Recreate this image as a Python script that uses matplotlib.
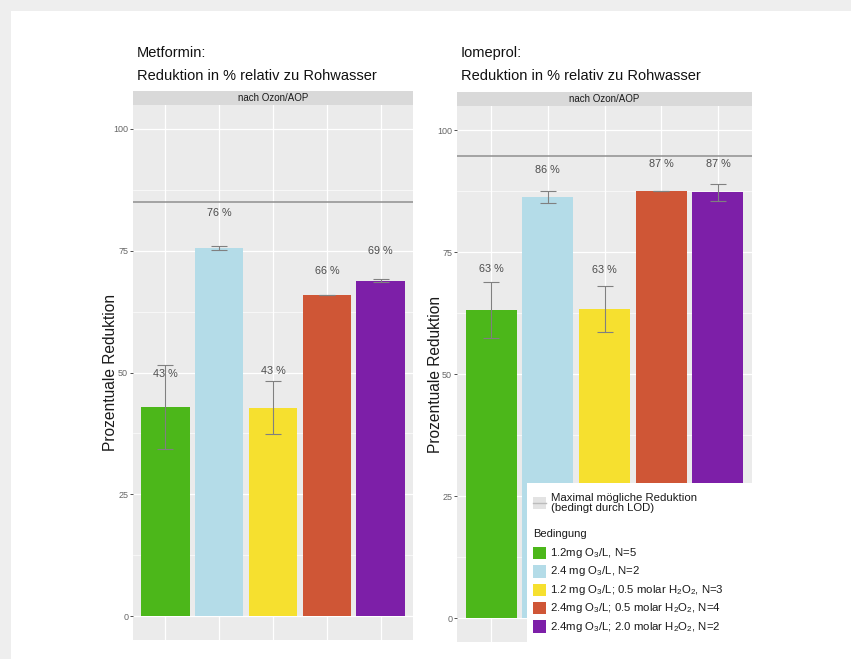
import matplotlib
matplotlib.use("Agg")
import matplotlib.pyplot as plt
from matplotlib.patches import Rectangle
from matplotlib.lines import Line2D

plt.rcParams["font.family"] = ["Liberation Sans", "DejaVu Sans"]
plt.rcParams["mathtext.fontset"] = "custom"
plt.rcParams["mathtext.rm"] = "Liberation Sans"
plt.rcParams["mathtext.it"] = "Liberation Sans:italic"
plt.rcParams["mathtext.bf"] = "Liberation Sans:bold"

# ---- data -------------------------------------------------------------
conditions = [
    "1.2mg O$_3$/L, N=5",
    "2.4 mg O$_3$/L, N=2",
    "1.2 mg O$_3$/L; 0.5 molar H$_2$O$_2$, N=3",
    "2.4mg O$_3$/L; 0.5 molar H$_2$O$_2$, N=4",
    "2.4mg O$_3$/L; 2.0 molar H$_2$O$_2$, N=2",
]
colors = ["#4cb71a", "#b4dce8", "#f6e02f", "#cf5636", "#7d1fa8"]

metformin_mean = [42.9, 75.6, 42.8, 65.9, 68.8]
metformin_sd = [8.7, 0.4, 5.4, 0.0, 0.3]
metformin_lod = 85.0

iomeprol_mean = [63.1, 86.3, 63.4, 87.4, 87.2]
iomeprol_sd = [5.7, 1.2, 4.7, 0.0, 1.7]
iomeprol_lod = 94.7

yticks = [0, 25, 50, 75, 100]
strip_label = "nach Ozon/AOP"
lod_label = "Maximal mögliche Reduktion\n(bedingt durch LOD)"
legend_title = "Bedingung"
ylabel = "Prozentuale Reduktion"

# vertical placement of the value labels above each bar
metformin_nudge = [6.8, 7.1, 7.5, 4.9, 6.2]
iomeprol_nudge = [8.4, 5.6, 7.9, 5.6, 5.8]

# ---- figure -----------------------------------------------------------
W, H = 851, 659
fig = plt.figure(figsize=(W / 100, H / 100), dpi=100, facecolor="#eeeeee")
fig.add_artist(Rectangle((11 / W, 0), 1 - 11 / W, 1 - 11 / H,
                         transform=fig.transFigure, facecolor="white",
                         edgecolor="none", zorder=-10))


def box(x0, x1, ytop, ybot):
    return [x0 / W, 1 - ybot / H, (x1 - x0) / W, (ybot - ytop) / H]


PANEL_BG = "#ebebeb"
TXT = "#4d4d4d"


def panel(x0, x1, ytop, ybot, means, sds, lod, nudges, title, ylab_x):
    # facet strip
    sax = fig.add_axes(box(x0, x1, ytop - 13.5, ytop))
    sax.set_facecolor("#d9d9d9")
    sax.set_xticks([]); sax.set_yticks([])
    for s in sax.spines.values():
        s.set_visible(False)
    sax.text(0.5, 0.5, strip_label, ha="center", va="center",
             fontsize=7.0, color="#1a1a1a", transform=sax.transAxes)

    ax = fig.add_axes(box(x0, x1, ytop, ybot))
    ax.set_facecolor(PANEL_BG)
    for s in ax.spines.values():
        s.set_visible(False)
    xs = list(range(1, len(means) + 1))
    ax.set_xlim(0.4, len(means) + 0.6)
    ax.set_ylim(-5, 105)
    ax.set_yticks(yticks)
    ax.set_yticks([12.5, 37.5, 62.5, 87.5], minor=True)
    ax.set_xticks(xs)
    ax.tick_params(axis="x", length=0, labelbottom=False)
    ax.tick_params(axis="y", which="major", length=2.5, width=0.6,
                   color="#333333", labelsize=6.5, labelcolor="#666666", pad=1)
    ax.tick_params(axis="y", which="minor", length=0)
    ax.grid(True, which="major", color="white", linewidth=0.9)
    ax.grid(True, which="minor", axis="y", color="white", linewidth=0.45)
    ax.set_axisbelow(True)

    ax.bar(xs, means, width=0.9, color=colors, zorder=2)
    ax.errorbar(xs, means, yerr=sds, fmt="none", ecolor="#808080",
                elinewidth=0.8, capsize=5.5, capthick=0.8, zorder=3)
    ax.axhline(lod, color="#8f8f8f", linewidth=1.1, zorder=2.5)
    for x, m, n in zip(xs, means, nudges):
        ax.text(x, m + n, f"{round(m):d} %", ha="center", va="center",
                fontsize=7.8, color=TXT, zorder=4)

    ax.set_ylabel(ylabel, fontsize=11.2, color="#1a1a1a")
    ax.yaxis.set_label_coords(ylab_x, 0.5)

    fig.text(x0 / W + 4 / W, 1 - 53 / H, title.split("\n")[0],
             fontsize=10.5, color="#111111", va="center", ha="left")
    fig.text(x0 / W + 4 / W, 1 - 76 / H, title.split("\n")[1],
             fontsize=10.5, color="#111111", va="center", ha="left")
    return ax


panel(133, 413, 104.6, 640.4, metformin_mean, metformin_sd, metformin_lod,
      metformin_nudge, "Metformin:\nReduktion in % relativ zu Rohwasser",
      -0.054)
panel(457, 752, 105.6, 642.4, iomeprol_mean, iomeprol_sd, iomeprol_lod,
      iomeprol_nudge, "Iomeprol:\nReduktion in % relativ zu Rohwasser",
      -0.046)

# ---- legend (drawn over the right panel) ------------------------------
fig.add_artist(Rectangle((527 / W, 1 - 644 / H), 225 / W, 161 / H,
                         transform=fig.transFigure, facecolor="white",
                         edgecolor="none", zorder=5))
key = 12.5
fig.add_artist(Rectangle((533 / W, 1 - 509 / H), key / W, key / H,
                         transform=fig.transFigure, facecolor="#e3e3e3",
                         edgecolor="none", zorder=6))
fig.add_artist(Line2D([533 / W, (533 + key) / W], [1 - 502.7 / H] * 2,
                      transform=fig.transFigure, color="#bcbcbc",
                      linewidth=1.0, zorder=7))
fig.text(551 / W, 1 - 503 / H, lod_label, fontsize=8.2, color="#1a1a1a",
         va="center", ha="left", linespacing=1.0, zorder=7)
fig.text(533 / W, 1 - 534 / H, legend_title, fontsize=8.0, color="#1a1a1a",
         va="center", ha="left", zorder=7)
for i, (lab, col) in enumerate(zip(conditions, colors)):
    yc = 553 + i * 18.4
    fig.add_artist(Rectangle((533 / W, 1 - (yc + key / 2) / H), key / W,
                             key / H, transform=fig.transFigure,
                             facecolor=col, edgecolor="none", zorder=6))
    fig.text(550 / W, 1 - yc / H, lab, fontsize=8.2, color="#1a1a1a",
             va="center", ha="left", zorder=7)

fig.savefig("out.png", dpi=100, facecolor=fig.get_facecolor())
